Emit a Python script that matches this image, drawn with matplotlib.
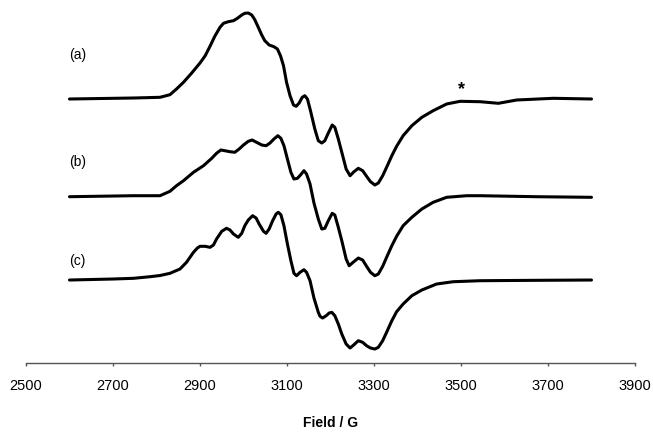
import matplotlib
matplotlib.use('Agg')
import matplotlib.pyplot as plt
import numpy as np

plt.rcParams['font.family'] = ['Liberation Sans', 'DejaVu Sans']

# Espectros EPR (campo en G, intensidad en unidades arbitrarias)
campo_a = [2600, 2747, 2808, 2831, 2846, 2862, 2881, 2900, 2912, 2923, 2934, 2946,
           2954, 2965, 2977, 2986, 2996, 3003, 3011, 3019, 3026, 3034, 3042, 3049,
           3059, 3070, 3078, 3085, 3092, 3099, 3107, 3115, 3121, 3128, 3135, 3141,
           3147, 3154, 3164, 3172, 3180, 3187, 3195, 3204, 3210, 3218, 3226, 3236,
           3245, 3254, 3264, 3274, 3283, 3292, 3302, 3310, 3320, 3329, 3341, 3352,
           3367, 3387, 3410, 3436, 3467, 3498, 3544, 3586, 3628, 3712, 3800]
señal_a = [0, 1, 1.7, 4.3, 10, 16.7, 26, 36, 43.3, 52.7, 62.7, 71.7,
           75.7, 77.3, 78.3, 80.7, 84, 85.7, 86, 84, 79.3, 71.7, 64, 58.3,
           54, 52.3, 50, 43.3, 33.3, 16.7, 3.3, -6, -7.3, -4, 1.7, 3.3,
           0, -11.7, -30, -41.7, -44, -41.7, -34, -26, -28.3, -40, -53.3, -70,
           -76.7, -72.7, -69.3, -71.7, -77.3, -82.7, -86, -84, -76.7, -68.3, -56.7, -47.3,
           -36.7, -26.7, -18.3, -11.7, -5, -2.3, -2.7, -4.3, -1, 0.7, 0]

campo_b = [2600, 2747, 2808, 2831, 2846, 2862, 2885, 2908, 2927, 2938, 2948, 2957,
           2969, 2980, 2990, 3000, 3011, 3020, 3030, 3042, 3052, 3061, 3070, 3079,
           3086, 3093, 3101, 3109, 3116, 3124, 3131, 3139, 3145, 3153, 3162, 3172,
           3180, 3187, 3195, 3204, 3210, 3218, 3226, 3236, 3243, 3252, 3264, 3274,
           3283, 3292, 3302, 3310, 3320, 3329, 3341, 3352, 3367, 3387, 3410, 3436,
           3467, 3513, 3544, 3674, 3800]
señal_b = [0.3, 1.3, 1.3, 5.7, 11.3, 16.3, 24.7, 31.3, 38.7, 43.7, 47, 46.3,
           45.3, 44.7, 48, 52, 55.7, 57, 54.7, 52, 51.3, 54, 58, 61.3,
           58.7, 51.3, 38, 24.7, 18, 18.7, 22, 26.3, 23, 13, -6, -22,
           -32, -31.3, -23.7, -16.3, -18, -30.3, -43.7, -62, -68.7, -65.3, -61, -63,
           -69.3, -75.3, -78.7, -77, -69.3, -60.3, -48.7, -39.3, -28.7, -20.3, -12, -5.3,
           -0.3, 1.3, 1.3, 0.3, -0.3]

campo_c = [2600, 2700, 2747, 2785, 2808, 2831, 2854, 2869, 2885, 2894, 2900, 2912,
           2923, 2931, 2938, 2950, 2961, 2969, 2977, 2988, 2996, 3003, 3011, 3021,
           3029, 3036, 3046, 3052, 3059, 3067, 3075, 3080, 3086, 3093, 3101, 3109,
           3116, 3122, 3130, 3139, 3145, 3153, 3162, 3172, 3176, 3182, 3190, 3197,
           3203, 3210, 3218, 3226, 3236, 3245, 3254, 3264, 3274, 3283, 3292, 3302,
           3310, 3320, 3329, 3341, 3352, 3367, 3387, 3410, 3444, 3482, 3544, 3674, 3800]
señal_c = [0, 1, 1.7, 3.3, 4.5, 6.7, 11, 17.7, 27.7, 32, 33.7, 33.7,
           32.7, 35, 41, 48.7, 51.7, 50, 46, 42.7, 46.7, 54.3, 60, 64.3,
           62, 56, 48.7, 46.7, 51, 59.3, 66, 67.7, 65.3, 54.3, 36, 19.3,
           6.7, 4.3, 7.7, 10.3, 7.7, -0.7, -18, -32.3, -36.3, -38, -35.7, -33,
           -32.3, -35.7, -44, -54, -64, -68, -64.7, -60.7, -62.3, -65.7, -68, -69,
           -67.3, -60.7, -52.3, -40.7, -31.7, -24, -15.7, -10, -4, -1.7, -0.7, -0.3, 0]

etiquetas = ['(a)', '(b)', '(c)']
ticks_x = [2500, 2700, 2900, 3100, 3300, 3500, 3700, 3900]

fig = plt.figure(figsize=(6.53, 4.39), dpi=100)
ax = fig.add_axes([0.0398, 0.1708, 0.9326, 0.8292])

desplazamientos = [264, 166, 83]
pos_etiquetas = [45, 36, 20]
for campo, señal, desp, etiq, dy in zip([campo_a, campo_b, campo_c],
                                         [señal_a, señal_b, señal_c],
                                         desplazamientos, etiquetas, pos_etiquetas):
    ax.plot(campo, np.array(señal) + desp, color='black', linewidth=2.2,
            solid_joinstyle='round', solid_capstyle='round')
    ax.text(2600, desp + dy, etiq, fontsize=10, ha='left', va='center')

# marca de impureza
ax.text(3502, 264 + 10, '*', fontsize=13, fontweight='bold', ha='center', va='center')

ax.set_xlim(2500, 3900)
ax.set_ylim(0, 364)
ax.set_xticks(ticks_x)
ax.tick_params(axis='x', direction='out', length=2.5, width=1, color='#555555',
               labelsize=10.5, pad=8)
ax.set_yticks([])
for lado in ['top', 'right', 'left']:
    ax.spines[lado].set_visible(False)
ax.spines['bottom'].set_color('#555555')
ax.spines['bottom'].set_linewidth(1)
ax.set_xlabel('Field / G', fontsize=10, fontweight='bold', labelpad=17)

fig.savefig('out.png', dpi=100)
